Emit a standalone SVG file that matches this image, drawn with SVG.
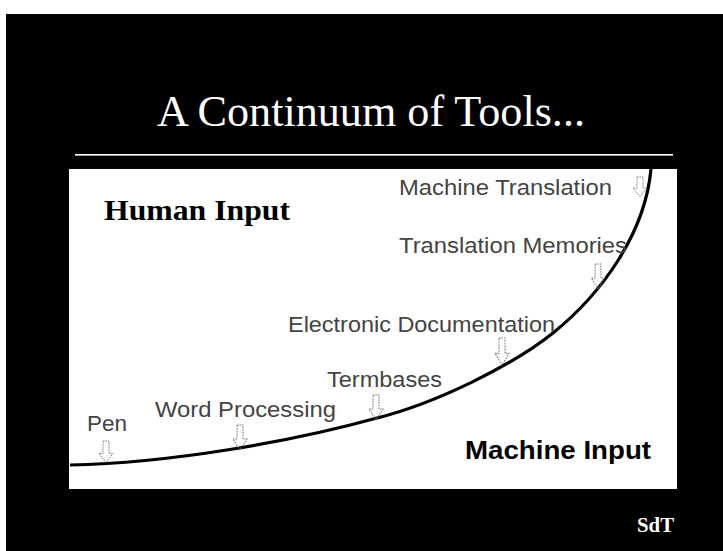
<svg xmlns="http://www.w3.org/2000/svg" width="723" height="551" viewBox="0 0 723 551">
  <defs>
    <style>
      .lbl { font-family: "Liberation Sans", Arial, sans-serif; font-size: 22px; fill: #444; }
      .arr { fill: none; stroke: #777; stroke-width: 1; stroke-dasharray: 1.5 1; }
    </style>
    <path id="darrow" d="M-3,0 H3 V13 H7 L0,23 L-7,13 H-3 Z"/>
  </defs>
  <rect x="0" y="0" width="723" height="551" fill="#fff"/>
  <rect x="6" y="14" width="717" height="537" fill="#000"/>
  <g id="title">
    <text x="157" y="126" font-family="'Liberation Serif', 'Times New Roman', serif" font-size="45" fill="#fff" textLength="428" lengthAdjust="spacingAndGlyphs">A Continuum of Tools...</text>
    <rect x="75" y="154" width="598" height="1.6" fill="#fff"/>
  </g>
  <rect id="panel" x="69" y="169" width="608" height="320" fill="#fff"/>
  <g id="connectors">
    <path d="M70,465 C170,463 290,442 377,418 C437,403 513,365 553,333 C600,295 645,235 651,169" fill="none" stroke="#000" stroke-width="3.2"/>
  </g>
  <g id="human-input">
    <text x="104" y="220" font-family="'Liberation Serif', 'Times New Roman', serif" font-weight="bold" font-size="30" fill="#000" textLength="186" lengthAdjust="spacingAndGlyphs">Human Input</text>
  </g>
  <g id="machine-input">
    <text x="465" y="459" font-family="'Liberation Sans', Arial, sans-serif" font-weight="bold" font-size="25" fill="#000" textLength="186" lengthAdjust="spacingAndGlyphs">Machine Input</text>
  </g>
  <g id="pen">
    <text class="lbl" x="87" y="431" textLength="40" lengthAdjust="spacingAndGlyphs">Pen</text>
    <use href="#darrow" class="arr" transform="translate(106,441) scale(1,0.95)"/>
  </g>
  <g id="word-processing">
    <text class="lbl" x="155" y="417" textLength="181" lengthAdjust="spacingAndGlyphs">Word Processing</text>
    <use href="#darrow" class="arr" transform="translate(240,425) scale(1,1.08)"/>
  </g>
  <g id="termbases">
    <text class="lbl" x="327" y="387" textLength="115" lengthAdjust="spacingAndGlyphs">Termbases</text>
    <use href="#darrow" class="arr" transform="translate(376,395) scale(1,1.08)"/>
  </g>
  <g id="electronic-documentation">
    <text class="lbl" x="288" y="332" textLength="267" lengthAdjust="spacingAndGlyphs">Electronic Documentation</text>
    <use href="#darrow" class="arr" transform="translate(502,338) scale(1,1.18)"/>
  </g>
  <g id="translation-memories">
    <text class="lbl" x="399" y="253" textLength="228" lengthAdjust="spacingAndGlyphs">Translation Memories</text>
    <use href="#darrow" class="arr" transform="translate(598,264) scale(0.95,1.08)"/>
  </g>
  <g id="machine-translation">
    <text class="lbl" x="399" y="195" textLength="213" lengthAdjust="spacingAndGlyphs">Machine Translation</text>
    <use href="#darrow" class="arr" transform="translate(640,177) scale(1,0.85)"/>
  </g>
  <g id="footer">
    <text x="637" y="532" font-family="'Liberation Serif', 'Times New Roman', serif" font-weight="bold" font-size="20" fill="#fff" textLength="37" lengthAdjust="spacingAndGlyphs">SdT</text>
  </g>
</svg>
